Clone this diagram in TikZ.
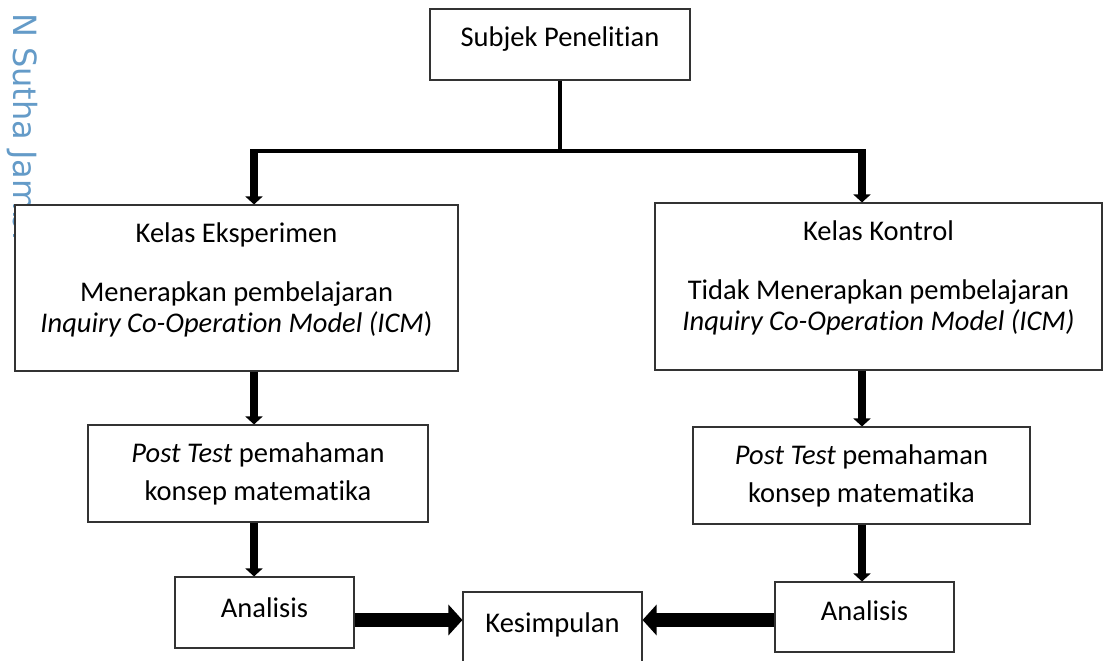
\documentclass[tikz,border=0pt]{standalone}
\usepackage{fontspec}
\setmainfont[Ligatures=NoCommon]{Carlito}
\newfontfamily\wmfont{DejaVu Sans}
\usetikzlibrary{arrows.meta}
\definecolor{wmblue}{RGB}{100,155,200}
\begin{document}
\begin{tikzpicture}[x=1pt,y=-1pt,
  box/.style={draw=black!80,line width=1.1pt,fill=white,inner sep=0pt,align=center,font=\fontsize{28.5}{31}\selectfont},
  flow/.style={line width=7.5pt,-{Triangle[length=8pt,width=17pt]}},
  trunkline/.style={line width=4.5pt},
  fat/.style={line width=13.5pt,-{Triangle[length=14pt,width=30pt]}}]
\path[use as bounding box,fill=white] (0,0) rectangle (1103,661);
\clip (0,0) rectangle (1103,661);
\node[rotate=-90,anchor=base west,inner sep=0pt,text=wmblue,font=\wmfont\fontsize{32}{32}\selectfont] (wm) at (13,13) {N Sutha Jambi};
\node[box,minimum width=260,text height=38pt,text depth=33pt,anchor=base] (subj) at (560,47) {Subjek Penelitian};
\node[box,minimum width=443,minimum height=166] (eks) at (236.5,288)
  {Kelas Eksperimen\\[28pt]Menerapkan pembelajaran\\\textit{Inquiry Co-Operation Model (ICM})\rule[-21pt]{0pt}{21pt}};
\node[box,minimum width=447,minimum height=167] (kon) at (878.5,286.5)
  {Kelas Kontrol\\[28pt]Tidak Menerapkan pembelajaran\\\textit{Inquiry Co-Operation Model (ICM)}\rule[-21pt]{0pt}{21pt}};
\node[box,minimum width=340,minimum height=97,font=\fontsize{28.5}{38}\selectfont] (ptEks) at (258,473.5)
  {\textit{Post Test} pemahaman\\konsep matematika};
\node[box,minimum width=337,minimum height=97,font=\fontsize{28.5}{38}\selectfont] (ptKon) at (861.5,475.5)
  {\textit{Post Test} pemahaman\\konsep matematika};
\node[box,minimum width=179,text height=40pt,text depth=31pt,anchor=base] (anEks) at (264.5,617) {Analisis};
\node[box,minimum width=179,text height=38pt,text depth=32pt,anchor=base] (anKon) at (864.5,620) {Analisis};
\node[box,minimum width=179,text height=40pt,text depth=40pt,anchor=base] (kes) at (552.5,632) {Kesimpulan};
\coordinate (trunk) at (560,151);
\coordinate (bl) at (254,151);
\coordinate (br) at (862,151);
\coordinate (mid) at (0,620);
\draw[trunkline] (subj.south -| trunk) -- (trunk);
\draw[trunkline] (bl) -- (br);
\draw[flow] ([yshift=2pt]bl) -- (bl |- eks.north);
\draw[flow] ([yshift=2pt]br) -- (br |- kon.north);
\draw[flow] (eks.south -| bl) -- (ptEks.north -| bl);
\draw[flow] (ptEks.south -| bl) -- (anEks.north -| bl);
\draw[flow] (kon.south -| br) -- (ptKon.north -| br);
\draw[flow] (ptKon.south -| br) -- (anKon.north -| br);
\draw[fat] (anEks.east |- mid) -- (kes.west |- mid);
\draw[fat] (anKon.west |- mid) -- (kes.east |- mid);
\end{tikzpicture}
\end{document}
